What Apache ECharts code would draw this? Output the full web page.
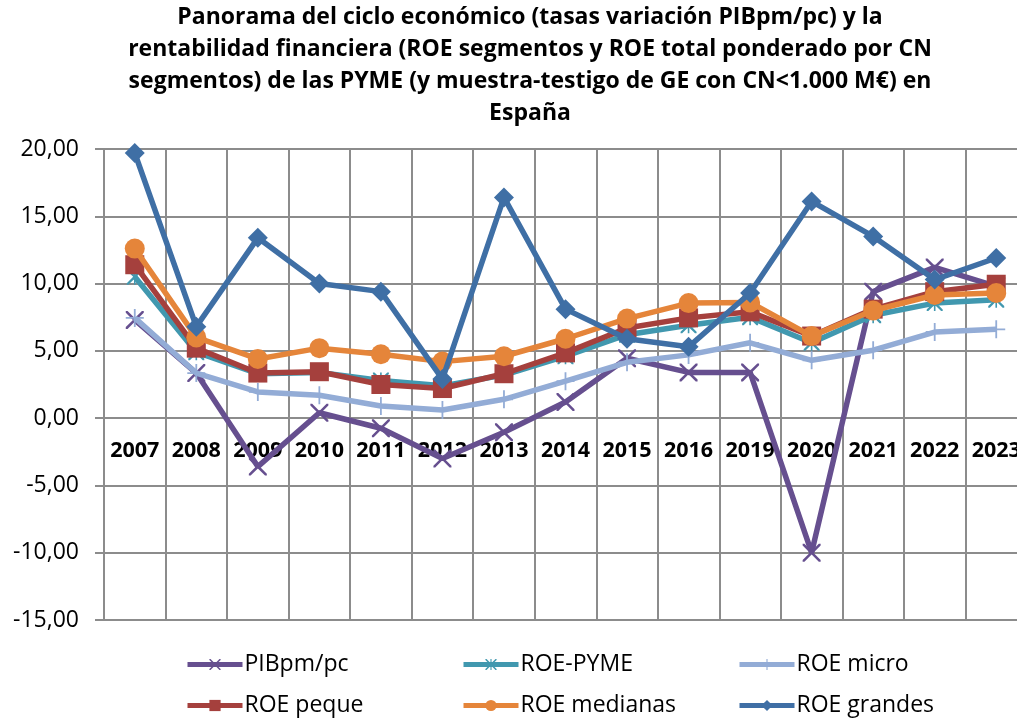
<!DOCTYPE html>
<html lang="es">
  <head>
    <meta charset="utf-8" />
    <title>Panorama del ciclo económico</title>
    <style>
      html,
      body,
      #container {
        margin: 0;
        height: 100%;
        width: 100%;
        background: #fff;
        overflow: hidden;
      }
    </style>
  </head>
  <body>
    <div id="container"></div>
    <script src="https://cdn.jsdelivr.net/npm/echarts@6/dist/echarts.min.js"></script>
    <script>
      // datos
      const years = ['2007', '2008', '2009', '2010', '2011', '2012', '2013', '2014', '2015', '2016', '2019', '2020', '2021', '2022', '2023']
      const pib = [7.3, 3.35, -3.6, 0.4, -0.75, -3.0, -1.05, 1.2, 4.45, 3.4, 3.4, -10.0, 9.4, 11.2, 9.8]
      const roePyme = [10.5, 4.9, 3.3, 3.4, 2.8, 2.4, 3.2, 4.6, 6.2, 6.9, 7.5, 5.6, 7.65, 8.55, 8.8]
      const roeMicro = [7.45, 3.35, 1.95, 1.7, 0.9, 0.6, 1.4, 2.75, 4.15, 4.7, 5.6, 4.3, 5.05, 6.4, 6.6]
      const roePeque = [11.4, 5.2, 3.35, 3.45, 2.5, 2.2, 3.3, 4.85, 6.7, 7.45, 7.9, 6.1, 8.1, 9.4, 9.95]
      const roeMedianas = [12.6, 6.0, 4.4, 5.2, 4.75, 4.2, 4.6, 5.9, 7.4, 8.55, 8.6, 6.1, 8.0, 9.15, 9.3]
      const roeGrandes = [19.7, 6.8, 13.4, 10.0, 9.4, 2.9, 16.4, 8.1, 5.9, 5.3, 9.3, 16.1, 13.5, 10.3, 11.9]

      const names = ['PIBpm/pc', 'ROE-PYME', 'ROE micro', 'ROE peque', 'ROE medianas', 'ROE grandes']
      const colors = ['#664f8f', '#4198af', '#93acd6', '#a5403d', '#e5853a', '#3f6fa5']

      // simbolos tipo Excel
      const xMark = 'path://M0,0 L2,0 L10,8 L18,0 L20,0 L20,2 L12,10 L20,18 L20,20 L18,20 L10,12 L2,20 L0,20 L0,18 L8,10 L0,2 Z'
      const plusMark = 'path://M9,0 H11 V9 H20 V11 H11 V20 H9 V11 H0 V9 H9 Z'
      const starMark = 'path://M0,0 L2,0 L10,8 L18,0 L20,0 L20,2 L12,10 L20,18 L20,20 L18,20 L10,12 L2,20 L0,20 L0,18 L8,10 L0,2 Z M9,0 H11 V20 H9 Z'
      const symbols = [xMark, starMark, plusMark, 'rect', 'circle', 'diamond']
      const sizes = [18, 16, 18, 19, 20, 20]
      const values = [pib, roePyme, roeMicro, roePeque, roeMedianas, roeGrandes]

      const fontFam = 'Open Sans'

      let chart = echarts.init(document.getElementById('container'))

      const series = names.map((n, i) => ({
        name: n,
        type: 'line',
        data: values[i],
        symbol: symbols[i],
        symbolSize: sizes[i],
        showAllSymbol: true,
        lineStyle: { color: colors[i], width: 5.5 },
        itemStyle: { color: colors[i] },
        z: 2 + i,
      }))

      // una leyenda por elemento, en cuadricula 3x2
      const legX = [185, 461, 737]
      const legends = names.map((n, i) => ({
        data: [n],
        left: legX[i % 3],
        top: 653 + Math.floor(i / 3) * 41,
        itemWidth: 55,
        itemHeight: 14,
        padding: 0,
        lineStyle: { width: 5 },
        textStyle: { fontFamily: fontFam, fontSize: 23, color: '#000', padding: [0, 0, 0, -3] },
        selectedMode: false,
      }))

      let option = {
        backgroundColor: '#fff',
        animation: false,
        color: colors,
        title: {
          text: 'Panorama del ciclo económico (tasas variación PIBpm/pc) y la\nrentabilidad financiera (ROE segmentos y ROE total ponderado por CN\nsegmentos) de las PYME (y muestra-testigo de GE con CN<1.000 M€) en\nEspaña',
          left: 530,
          textAlign: 'center',
          top: 1,
          padding: 0,
          textStyle: {
            fontFamily: fontFam,
            fontSize: 23,
            fontWeight: 'bold',
            lineHeight: 32,
            color: '#000',
          },
        },
        legend: legends,
        grid: { left: 104, width: 923, top: 149, height: 471, outerBoundsMode: 'none', containLabel: false },
        xAxis: {
          type: 'category',
          data: years,
          boundaryGap: true,
          offset: -202,
          axisLine: { onZero: false, lineStyle: { color: '#8c8c8c', width: 2 } },
          axisTick: { show: false },
          axisLabel: {
            margin: 22,
            fontFamily: fontFam,
            fontSize: 21.5,
            fontWeight: 'bold',
            color: '#000',
            interval: 0,
          },
          splitLine: { show: true, interval: 0, lineStyle: { color: '#8c8c8c', width: 2 } },
        },
        yAxis: {
          type: 'value',
          min: -15,
          max: 20,
          interval: 5,
          axisLine: { show: true, lineStyle: { color: '#8c8c8c', width: 2 } },
          axisTick: { show: true, length: 9, lineStyle: { color: '#8c8c8c', width: 2 } },
          axisLabel: {
            margin: 25,
            fontFamily: fontFam,
            fontSize: 23,
            color: '#000',
            formatter: (v) => v.toFixed(2).replace('.', ','),
          },
          splitLine: { lineStyle: { color: '#8c8c8c', width: 2 } },
        },
        series: series,
      }
      chart.setOption(option)
    </script>
  </body>
</html>
